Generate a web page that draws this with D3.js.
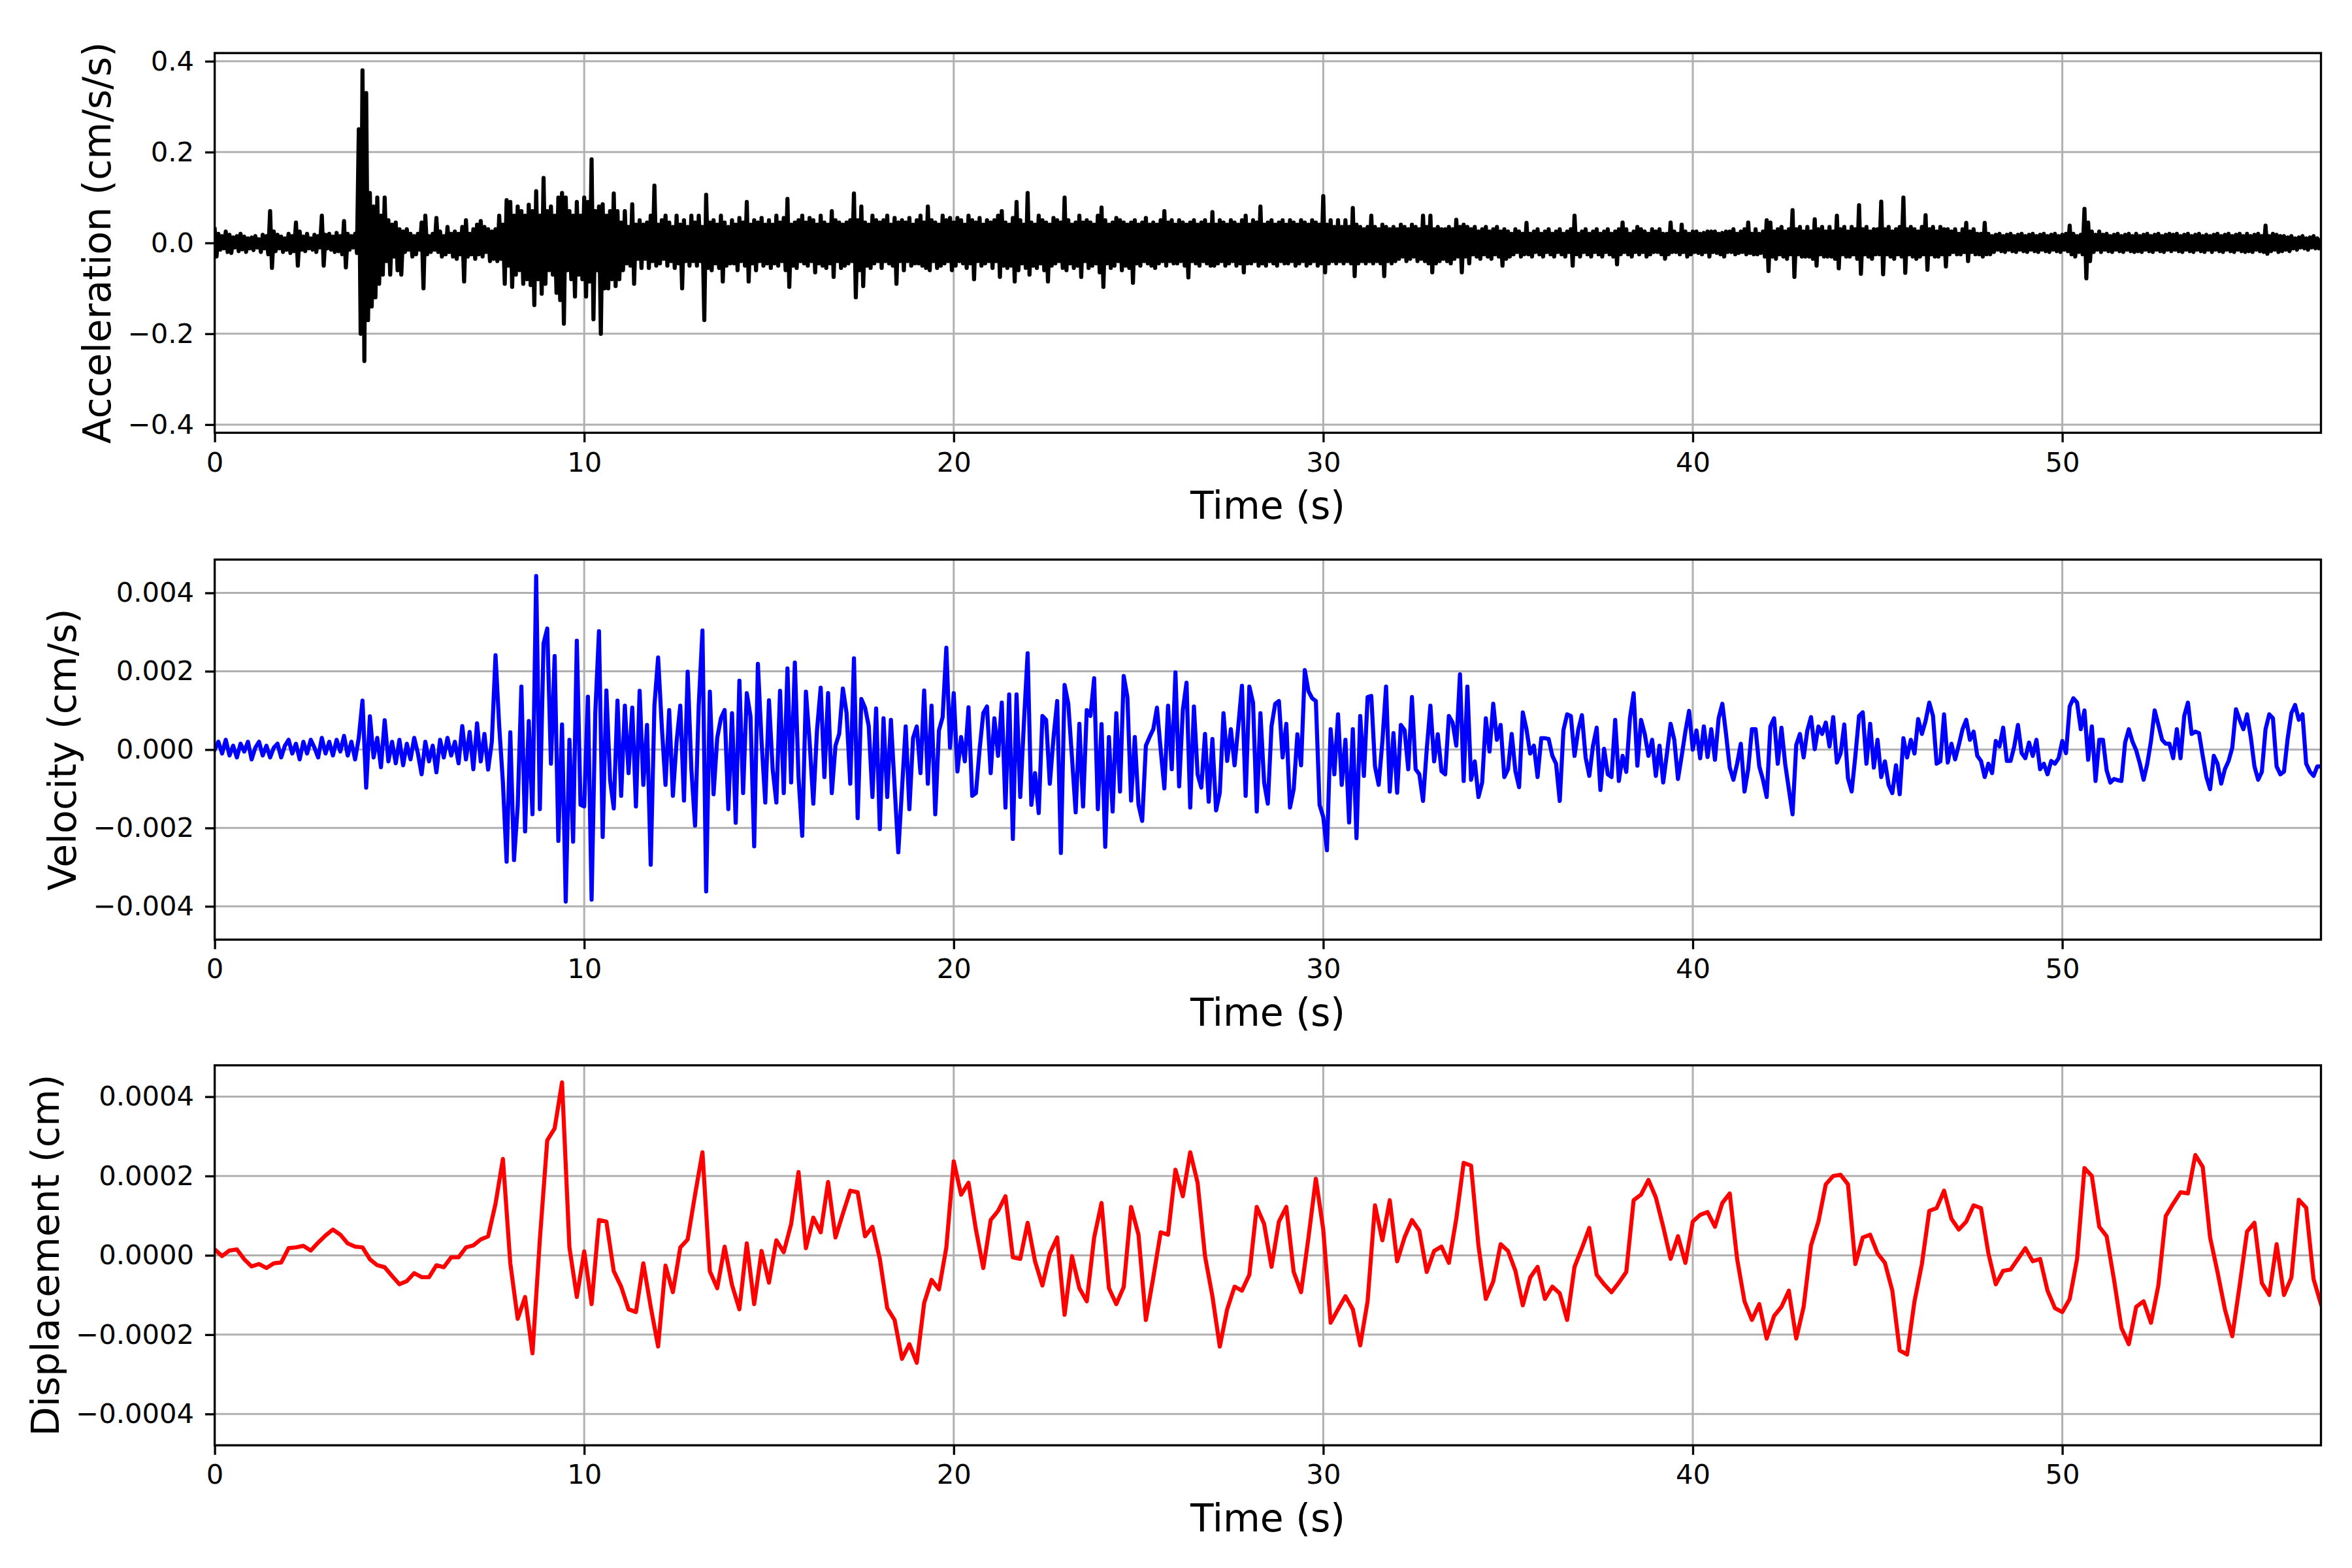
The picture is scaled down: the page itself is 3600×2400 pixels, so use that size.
<!DOCTYPE html>
<html>
<head>
<meta charset="utf-8">
<script src="https://cdn.jsdelivr.net/npm/d3@7"></script>
<style>
  body { margin: 0; background: #ffffff; }
  svg text { font-family: "DejaVu Sans", sans-serif; }
</style>
</head>
<body>
<svg id="chart" width="3600" height="2400"></svg>
<script>
// ---------------- DATA ----------------
// Sampling
const accTimeStep = 0.05;  // s, acceleration samples
const velTimeStep = 0.1;   // s, velocity samples
const dispTimeStep = 0.2;  // s, displacement samples
const timeEnd = 57.0;      // s

// Tick values
const xTicks = [0, 10, 20, 30, 40, 50];
const accTicks = [-0.4, -0.2, 0.0, 0.2, 0.4];
const velTicks = [-0.004, -0.002, 0.0, 0.002, 0.004];
const dispTicks = [-0.0004, -0.0002, 0.0, 0.0002, 0.0004];

// Axis limits (symmetric)
const accLim = 0.418;
const velLim = 0.00485;
const dispLim = 0.000479;

// Acceleration, in units of 0.001 cm/s/s (one value per 0.05 s, one row per second)
const accMilli = [
  30,-30,20,-15,15,-12,25,-20,18,-22,12,-10,15,-18,20,-14,14,-20,10,-12,
  12,-16,15,-10,8,-20,18,-12,15,-25,70,-55,25,-18,18,-12,14,-20,10,-15,
  20,-22,15,-18,45,-50,25,-15,14,-18,20,-12,10,-15,18,-20,15,-10,60,-50,
  18,-12,20,-15,14,-20,22,-18,15,-25,48,-54,20,-15,15,-10,20,-22,250,-200,
  380,-260,330,-170,110,-140,80,-120,100,-90,60,-70,100,-40,50,-70,40,-30,45,-60,
  30,-70,25,-20,30,-15,20,-30,15,-25,20,-15,45,-100,60,-25,15,-20,20,-15,
  55,-20,25,-30,15,-25,35,-20,20,-30,25,-35,20,-25,35,-85,50,-30,20,-25,
  30,-35,40,-25,48,-30,35,-20,30,-40,25,-35,30,-40,60,-35,40,-90,94,-50,
  90,-97,60,-70,80,-60,70,-90,60,-80,84,-93,70,-137,114,-80,60,-112,143,-90,
  70,-60,80,-70,60,-110,100,-126,110,-178,100,-60,70,-80,60,-118,90,-70,60,-80,
  100,-118,90,-85,184,-168,70,-60,80,-200,85,-100,60,-100,70,-80,109,-95,70,-80,
  45,-60,70,-45,35,-50,85,-90,40,-35,50,-55,40,-35,45,-55,60,-40,126,-50,
  40,-45,50,-35,60,-50,45,-40,35,-55,60,-45,40,-100,50,-40,35,-50,60,-40,
  45,-50,60,-40,35,-170,106,-55,45,-60,50,-45,40,-55,60,-85,45,-50,35,-45,
  50,-45,40,-60,55,-40,45,-50,90,-85,40,-45,50,-60,45,-40,55,-50,40,-45,
  50,-55,40,-45,60,-50,45,-40,55,-60,97,-97,40,-50,45,-55,50,-40,60,-45,
  45,-50,55,-40,50,-65,40,-45,60,-50,45,-55,40,-45,70,-75,50,-40,45,-55,
  40,-50,45,-45,50,-40,109,-120,50,-60,80,-95,45,-50,40,-55,60,-45,50,-40,
  45,-55,50,-40,60,-45,40,-50,55,-90,45,-40,50,-60,45,-40,55,-50,40,-45,
  50,-45,60,-50,45,-55,80,-60,50,-40,45,-55,40,-50,60,-45,50,-40,55,-60,
  45,-50,55,-40,50,-45,40,-55,60,-45,50,-80,45,-40,55,-50,40,-45,50,-40,
  45,-55,50,-40,60,-75,70,-50,45,-55,40,-50,55,-85,90,-60,50,-45,40,-55,
  110,-70,45,-50,40,-55,60,-45,50,-60,45,-85,40,-50,55,-45,50,-40,45,-55,
  100,-60,50,-45,40,-55,45,-50,60,-75,45,-40,50,-55,45,-50,40,-45,60,-65,
  78,-97,50,-45,40,-55,45,-50,55,-40,50,-60,45,-50,40,-55,45,-88,50,-45,
  40,-50,45,-40,55,-45,40,-50,45,-55,40,-45,50,-40,70,-50,45,-40,50,-45,
  40,-45,50,-40,45,-50,40,-76,45,-40,50,-45,40,-50,45,-40,50,-45,40,-50,
  68,-50,40,-45,50,-40,45,-50,40,-45,50,-40,45,-50,40,-45,50,-65,60,-45,
  40,-45,50,-40,45,-50,80,-45,40,-50,45,-40,50,-45,40,-50,45,-40,50,-45,
  40,-45,50,-40,45,-50,40,-45,50,-40,45,-50,40,-45,50,-40,45,-50,40,-45,
  103,-65,40,-45,50,-40,35,-45,50,-40,35,-45,50,-40,35,-45,77,-73,40,-45,
  35,-40,30,-45,35,-40,60,-45,35,-40,30,-45,40,-73,35,-40,30,-45,35,-40,
  30,-35,40,-30,35,-40,30,-35,40,-30,35,-40,30,-35,60,-40,35,-45,60,-65,
  30,-45,35,-40,30,-35,30,-40,35,-45,30,-35,51,-30,35,-65,40,-30,35,-45,
  30,-25,35,-30,25,-35,30,-25,35,-30,25,-35,30,-25,35,-30,25,-50,30,-35,
  25,-30,20,-25,30,-20,25,-30,20,-25,44,-25,20,-30,25,-20,30,-25,20,-30,
  25,-20,30,-25,20,-30,25,-20,30,-25,20,-30,25,-20,30,-50,60,-25,20,-30,
  25,-20,30,-25,20,-30,25,-20,30,-25,20,-30,25,-20,30,-25,20,-30,25,-47,
  30,-25,45,-20,30,-25,20,-30,25,-20,35,-25,30,-20,25,-30,20,-25,30,-20,
  25,-20,30,-25,20,-35,20,-25,45,-20,25,-20,20,-25,40,-20,25,-30,20,-25,
  25,-20,25,-22,20,-25,22,-20,25,-30,25,-20,25,-22,20,-25,22,-30,25,-20,
  25,-20,30,-25,20,-22,25,-20,30,-25,45,-22,20,-25,30,-25,20,-22,25,-30,
  50,-62,45,-30,25,-35,30,-25,35,-30,25,-35,30,-25,72,-75,30,-25,35,-30,
  25,-30,35,-30,25,-35,52,-50,30,-25,35,-30,25,-30,35,-30,25,-35,60,-56,
  30,-25,35,-30,25,-30,35,-25,30,-35,83,-68,30,-25,35,-30,25,-35,30,-25,
  30,-25,91,-69,30,-25,35,-30,25,-35,30,-25,35,-30,100,-66,30,-25,35,-30,
  30,-35,25,-30,35,-25,61,-59,30,-25,35,-30,25,-30,35,-25,30,-52,30,-25,
  25,-20,30,-25,20,-25,30,-20,44,-40,25,-20,30,-25,20,-25,20,-30,44,-25,
  20,-25,15,-20,18,-15,20,-18,15,-20,18,-15,20,-18,15,-20,18,-15,20,-18,
  15,-20,18,-15,20,-18,15,-20,18,-15,20,-18,15,-20,18,-15,20,-18,15,-20,
  18,-15,20,-18,38,-25,20,-30,15,-20,18,-25,75,-78,45,-40,25,-20,18,-15,
  25,-20,18,-15,20,-18,15,-20,18,-15,20,-18,15,-20,18,-15,20,-18,15,-20,
  20,-18,15,-20,18,-15,20,-18,15,-20,18,-15,20,-18,15,-20,18,-15,20,-18,
  18,-15,20,-18,15,-20,18,-15,20,-18,15,-20,18,-15,20,-18,15,-20,18,-15,
  15,-20,18,-15,20,-18,15,-20,18,-15,20,-18,15,-20,18,-15,20,-18,15,-20,
  20,-18,15,-20,18,-15,20,-18,15,-20,38,-24,15,-18,20,-15,18,-20,15,-18,
  15,-15,12,-18,15,-12,10,-15,12,-10,15,-12,10,-15,12,-10,15,-12,10,-12,
  5
];

// Velocity, in units of 1e-5 cm/s (one value per 0.1 s, one row per second)
const velE5 = [
  0,20,-10,25,-15,10,-20,15,-5,20,
  -25,5,20,-15,10,-20,5,15,-20,10,
  25,-10,15,-25,20,-10,25,5,-20,30,
  -10,20,-15,25,-5,35,-15,20,-25,30,
  125,-97,85,-20,30,-45,75,-30,20,-35,
  25,-40,15,-25,30,-10,-63,20,-30,10,
  -58,25,-20,30,-15,20,-35,60,-25,45,
  -50,67,-30,40,-51,20,241,60,-84,-286,
  44,-282,-145,161,-209,73,-165,443,-152,271,
  309,-36,239,-233,64,-388,25,-235,278,-141,
  -145,135,-383,93,302,-223,151,-77,-150,125,
  -118,112,-60,107,-145,150,-90,63,-294,112,
  235,59,-90,101,-118,20,112,-130,199,-50,
  -194,114,304,-362,148,-114,30,80,101,-152,
  93,-187,176,-111,144,85,-247,219,20,-135,
  126,-50,-135,150,-111,207,-84,222,-70,-220,
  148,20,-138,50,158,-70,144,-111,10,40,
  156,93,-87,233,-175,129,107,60,-121,105,
  -203,80,-121,76,-94,-262,-100,59,-152,30,
  59,-60,151,-87,112,-165,49,83,260,5,
  144,-56,32,-30,108,-118,-111,0,93,110,
  -60,80,-16,120,-148,141,-228,141,-121,69,
  246,-141,-60,-162,86,76,-87,30,124,-264,
  165,117,-20,-160,66,-145,101,86,182,-152,
  65,-248,32,-158,93,-107,188,134,-130,32,
  -141,-182,10,32,52,107,0,-99,112,-50,
  197,-94,101,171,-148,110,-63,-97,40,-133,
  27,-155,-110,93,-29,52,-40,59,163,-118,
  161,120,-158,93,-84,-138,60,117,124,-20,
  66,-148,-101,39,-40,203,149,131,124,-141,
  -172,-257,52,-63,90,-90,25,-186,52,-226,
  86,-67,134,137,-43,-90,20,161,-107,42,
  -110,63,50,-50,134,-50,-63,-131,0,112,
  -30,39,-55,-63,86,69,10,192,-80,161,
  -77,-30,-121,-84,80,-5,117,25,63,-70,
  -50,40,-55,-96,95,52,-10,10,-70,29,
  29,27,-16,-36,-131,50,90,86,-16,50,
  88,-20,-67,10,56,-103,2,-63,-70,76,
  -80,-16,-57,80,144,-41,76,40,-16,25,
  -67,10,-84,-10,66,25,-75,-16,46,99,
  0,49,-22,59,-19,52,-26,80,117,40,
  -46,-77,-36,15,-107,-50,52,52,-43,-77,
  -121,59,80,-36,56,-36,-101,-165,12,40,
  -20,49,83,1,59,40,69,8,83,-33,
  -10,64,-73,-107,-16,86,95,-36,66,-46,
  25,-70,-30,-90,-111,-40,-114,29,-20,25,
  -10,78,40,73,120,86,-36,-30,90,-33,
  15,-25,12,52,76,25,46,-16,-29,-70,
  -36,-60,22,8,56,-29,-29,8,63,-9,
  -22,18,-16,25,-50,-36,-63,-29,-36,-22,
  22,-9,110,131,120,52,100,-26,59,-80,
  25,25,-53,-84,-75,-78,-80,18,52,20,
  -2,-36,-77,-36,22,100,63,25,15,15,
  -22,52,-22,86,120,40,46,42,-16,-70,
  -101,-16,-36,-87,-50,-29,5,103,76,52,
  90,32,-43,-77,-57,52,90,80,-43,-63,
  -56,29,93,114,76,90,-36,-56,-67,-43,
  -43
];

// Displacement, in units of 1e-6 cm (one value per 0.2 s, one row per 2 s)
const dispE6 = [
  15,-2,12,15,-10,-28,-22,-32,-20,-18,
  18,20,24,12,32,50,65,52,30,22,
  20,-10,-25,-30,-52,-73,-65,-45,-55,-55,
  -25,-30,-5,-5,20,25,40,48,130,243,
  -20,-160,-105,-247,40,290,320,436,20,-105,
  10,-123,89,85,-40,-79,-136,-143,-20,-130,
  -230,-26,-93,20,40,153,260,-40,-83,22,
  -75,-136,30,-123,11,-69,38,8,79,210,
  18,95,58,185,45,105,163,159,48,72,
  -9,-133,-163,-261,-224,-271,-120,-62,-86,20,
  237,153,183,65,-32,89,112,149,-5,-9,
  82,-15,-76,5,45,-150,-2,-83,-116,45,
  132,-83,-123,-80,122,52,-163,-56,58,52,
  216,149,260,183,-2,-103,-230,-136,-79,-89,
  -49,122,79,-29,85,122,-42,-93,45,193,
  65,-170,-136,-103,-136,-227,-116,126,38,139,
  -15,45,89,62,-42,11,22,-19,92,233,
  226,25,-110,-66,28,11,-39,-126,-56,-29,
  -110,-79,-96,-163,-29,18,69,-49,-73,-93,
  -69,-42,139,153,190,146,72,-9,48,-19,
  85,102,109,72,132,156,-9,-116,-163,-123,
  -210,-153,-130,-89,-210,-130,25,85,179,200,
  203,179,-22,45,52,5,-19,-89,-240,-250,
  -116,-22,112,119,163,92,65,85,126,119,
  5,-73,-39,-36,-9,18,-15,-9,-89,-133,
  -143,-110,-9,220,200,72,48,-62,-183,-224,
  -130,-116,-170,-76,99,130,159,156,253,223,
  45,-42,-136,-204,-76,60,82,-70,-100,28,
  -100,-56,140,120,-60,-123
];

// ---------------- LAYOUT / STYLE ----------------
const plotLeft = 328.6, plotRight = 3552.5;
const tickFont = 41.7, labelFont = 58.3;
const gridColor = "#b0b0b0", gridW = 3, spineW = 3.33, lineW = 6.25, tickLen = 14.6;

const panels = [
  { top: 81.2, bottom: 662.4, values: accMilli.map(v => v * 1e-3), dt: accTimeStep,
    lim: accLim, ticks: accTicks, fmt: d3.format(".1f"), color: "#000000",
    label: "Acceleration (cm/s/s)", labelX: 169 },
  { top: 856.5, bottom: 1438.2, values: velE5.map(v => v * 1e-5), dt: velTimeStep,
    lim: velLim, ticks: velTicks, fmt: d3.format(".3f"), color: "#0000ff",
    label: "Velocity (cm/s)", labelX: 116 },
  { top: 1630.6, bottom: 2212.2, values: dispE6.map(v => v * 1e-6), dt: dispTimeStep,
    lim: dispLim, ticks: dispTicks, fmt: d3.format(".4f"), color: "#ff0000",
    label: "Displacement (cm)", labelX: 90 }
];

const svg = d3.select("#chart");
svg.append("rect").attr("width", 3600).attr("height", 2400).attr("fill", "#ffffff");
const x = d3.scaleLinear().domain([0, timeEnd]).range([plotLeft, plotRight]);
const defs = svg.append("defs");

panels.forEach((p, k) => {
  const y = d3.scaleLinear().domain([-p.lim, p.lim]).range([p.bottom, p.top]);
  const g = svg.append("g");

  // grid
  g.append("g").selectAll("line").data(xTicks).join("line")
    .attr("x1", d => x(d)).attr("x2", d => x(d))
    .attr("y1", p.top).attr("y2", p.bottom)
    .attr("stroke", gridColor).attr("stroke-width", gridW);
  g.append("g").selectAll("line").data(p.ticks).join("line")
    .attr("x1", plotLeft).attr("x2", plotRight)
    .attr("y1", d => y(d)).attr("y2", d => y(d))
    .attr("stroke", gridColor).attr("stroke-width", gridW);

  // clip
  defs.append("clipPath").attr("id", "clip" + k).append("rect")
    .attr("x", plotLeft).attr("y", p.top)
    .attr("width", plotRight - plotLeft).attr("height", p.bottom - p.top);

  // data line
  const line = d3.line().x((d, i) => x(i * p.dt)).y(d => y(d));
  g.append("path").datum(p.values)
    .attr("d", line)
    .attr("fill", "none").attr("stroke", p.color).attr("stroke-width", lineW)
    .attr("stroke-linejoin", "round").attr("stroke-linecap", "square")
    .attr("clip-path", `url(#clip${k})`);

  // x axis
  const xa = g.append("g").attr("transform", `translate(0,${p.bottom})`)
    .call(d3.axisBottom(x).tickValues(xTicks).tickFormat(d3.format("d"))
      .tickSize(tickLen).tickSizeOuter(0).tickPadding(15));
  xa.select(".domain").remove();
  xa.attr("font-size", tickFont).attr("font-family", "DejaVu Sans");
  xa.selectAll(".tick line").attr("stroke", "#000").attr("stroke-width", spineW);
  xa.selectAll(".tick text").attr("fill", "#000");

  // y axis
  const ya = g.append("g").attr("transform", `translate(${plotLeft},0)`)
    .call(d3.axisLeft(y).tickValues(p.ticks).tickFormat(p.fmt)
      .tickSize(tickLen).tickSizeOuter(0).tickPadding(17));
  ya.select(".domain").remove();
  ya.attr("font-size", tickFont).attr("font-family", "DejaVu Sans");
  ya.selectAll(".tick line").attr("stroke", "#000").attr("stroke-width", spineW);
  ya.selectAll(".tick text").attr("fill", "#000");

  // spines
  g.append("rect").attr("x", plotLeft).attr("y", p.top)
    .attr("width", plotRight - plotLeft).attr("height", p.bottom - p.top)
    .attr("fill", "none").attr("stroke", "#000").attr("stroke-width", spineW);

  // labels
  g.append("text").attr("x", (plotLeft + plotRight) / 2).attr("y", p.bottom + 132)
    .attr("text-anchor", "middle").attr("font-size", labelFont).attr("fill", "#000")
    .text("Time (s)");
  g.append("text")
    .attr("transform", `translate(${p.labelX},${(p.top + p.bottom) / 2}) rotate(-90)`)
    .attr("text-anchor", "middle").attr("font-size", labelFont).attr("fill", "#000")
    .text(p.label);
});
</script>
</body>
</html>
